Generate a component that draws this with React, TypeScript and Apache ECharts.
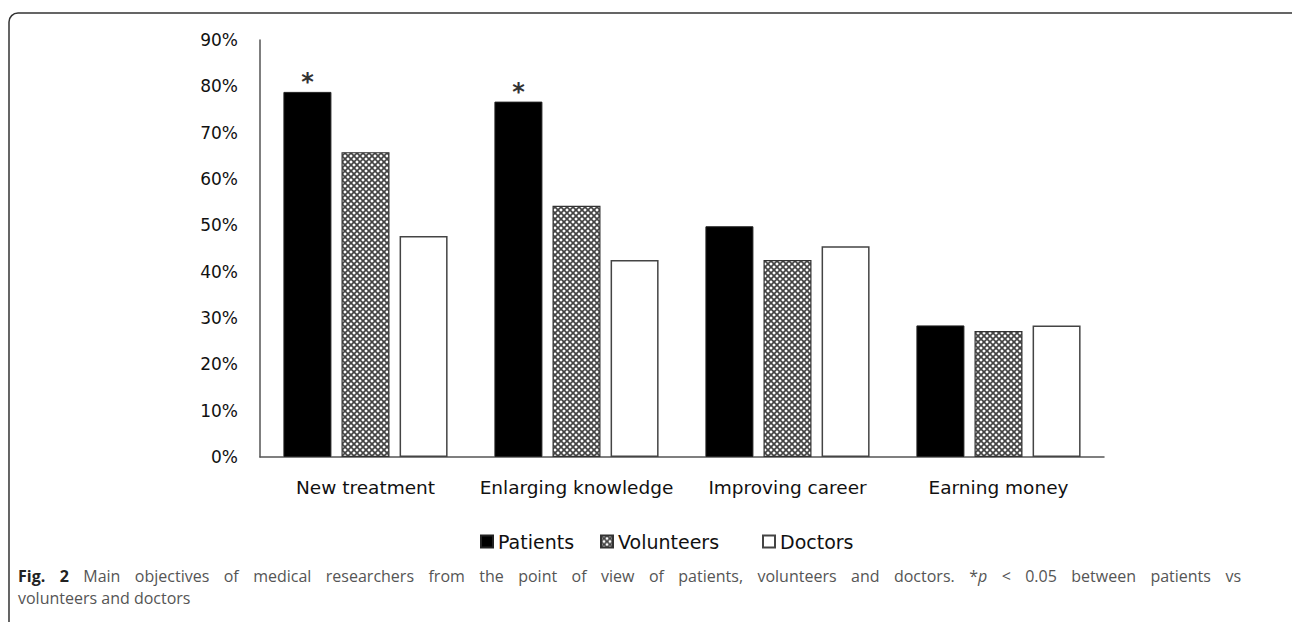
import React, { useEffect, useRef } from "react";
import * as echarts from "echarts";

const categories = ["New treatment", "Enlarging knowledge", "Improving career", "Earning money"];
const seriesNames = ["Patients", "Volunteers", "Doctors"];
const patients = [78.8, 76.7, 49.8, 28.4];
const volunteers = [65.8, 54.2, 42.5, 27.2];
const doctors = [47.7, 42.5, 45.5, 28.4];
const patientsSignificant = [true, true, false, false];
const yTicks = { min: 0, max: 90, interval: 10 };
// caption words: [text, style] ; style b = bold, n = normal, pi = "*p" with italic p
const captionWords: [string, string][] = [
  ["Fig.", "b"], ["2", "b"],
  ...("Main objectives of medical researchers from the point of view of patients, volunteers and doctors."
    .split(" ").map((w) => [w, "n"] as [string, string])),
  ["*p", "pi"],
  ...("< 0.05 between patients vs".split(" ").map((w) => [w, "n"] as [string, string])),
];
const captionLine2 = "volunteers and doctors";

function makeHatch(): string {
  const c = document.createElement("canvas");
  c.width = 6;
  c.height = 6;
  const ctx = c.getContext("2d");
  if (ctx) {
    ctx.fillStyle = "#ffffff";
    ctx.fillRect(0, 0, 6, 6);
    ctx.strokeStyle = "#444444";
    ctx.lineWidth = 1.7;
    ctx.beginPath();
    ctx.moveTo(-1, -1);
    ctx.lineTo(7, 7);
    ctx.moveTo(7, -1);
    ctx.lineTo(-1, 7);
    ctx.stroke();
  }
  return c.toDataURL();
}

export default function App() {
  const ref = useRef<HTMLDivElement>(null);
  useEffect(() => {
    document.body.style.margin = "0";
    if (!ref.current) return;
    const chart = echarts.init(ref.current, undefined, { renderer: "svg" });
    const hatch = makeHatch();
    const axisFont = "DejaVu Sans";
    const capFont = "Open Sans";
    const capSize = 16;

    // justified caption line
    const mc = document.createElement("canvas").getContext("2d")!;
    const measure = (t: string, weight: string, style: string) => {
      mc.font = `${style} ${weight} ${capSize}px "${capFont}"`;
      return mc.measureText(t).width;
    };
    const widths = captionWords.map(([w, s]) => {
      if (s === "b") return measure(w, "bold", "normal");
      if (s === "pi") return measure("*", "normal", "normal") + measure("p", "normal", "italic");
      return measure(w, "normal", "normal");
    });
    const lineLeft = 18;
    const lineRight = 1241;
    const total = widths.reduce((a, b) => a + b, 0);
    const gap = (lineRight - lineLeft - total) / (captionWords.length - 1);
    const rich = {
      b: { fontFamily: capFont, fontSize: capSize, fontWeight: "bold", fill: "#222" },
      n: { fontFamily: capFont, fontSize: capSize, fill: "#555" },
      i: { fontFamily: capFont, fontSize: capSize, fontStyle: "italic", fill: "#555" },
    };
    let xPos = lineLeft;
    const captionGraphics = captionWords.map(([w, s], k) => {
      const text = s === "pi" ? `{n|*}{i|p}` : `{${s}|${w}}`;
      const g = {
        type: "text",
        x: xPos,
        y: 576,
        silent: true,
        style: { text, rich, verticalAlign: "middle", align: "left" },
      };
      xPos += widths[k] + gap;
      return g;
    });

    const legendLefts = [475, 595, 757];
    const legends = seriesNames.map((name, k) => ({
      show: true,
      left: legendLefts[k],
      top: 527,
      itemWidth: 12,
      itemHeight: 12,
      itemGap: 0,
      icon: "rect",
      textStyle: { fontFamily: axisFont, fontSize: 19, color: "#111" },
      data: [name],
    }));

    const barBase = { type: "bar" as const, barWidth: 48, barGap: "21%" };
    chart.setOption({
      animation: false,
      backgroundColor: "#ffffff",
      grid: { left: 260, right: 188, top: 40, bottom: 165, containLabel: false },
      legend: legends,
      xAxis: {
        type: "category",
        data: categories,
        axisLine: { show: true, lineStyle: { color: "#555", width: 1.5 } },
        axisTick: { show: false },
        axisLabel: { fontFamily: axisFont, fontSize: 18.5, color: "#111", margin: 21, interval: 0 },
      },
      yAxis: {
        type: "value",
        min: yTicks.min,
        max: yTicks.max,
        interval: yTicks.interval,
        axisLine: { show: true, lineStyle: { color: "#555", width: 1.5 } },
        axisTick: { show: false },
        splitLine: { show: false },
        axisLabel: { fontFamily: axisFont, fontSize: 17, color: "#111", margin: 22, formatter: "{value}%" },
      },
      series: [
        {
          ...barBase,
          name: seriesNames[0],
          itemStyle: { color: "#000000", borderColor: "#222", borderWidth: 1 },
          data: patients.map((v, i) => ({
            value: v,
            label: patientsSignificant[i]
              ? { show: true, position: "top", formatter: "*", fontSize: 24, fontWeight: "bold", color: "#333", distance: -2, fontFamily: axisFont }
              : { show: false },
          })),
        },
        {
          ...barBase,
          name: seriesNames[1],
          itemStyle: { color: { image: hatch, repeat: "repeat" }, borderColor: "#333", borderWidth: 1.2 },
          data: volunteers,
        },
        {
          ...barBase,
          name: seriesNames[2],
          itemStyle: { color: "#ffffff", borderColor: "#444", borderWidth: 1.5 },
          data: doctors,
        },
      ],
      graphic: [
        {
          type: "rect",
          silent: true,
          z: -10,
          shape: { x: 9, y: 13, width: 1300, height: 700, r: 9 },
          style: { fill: "none", stroke: "#333", lineWidth: 1.5 },
        },
        ...captionGraphics,
        {
          type: "text",
          x: 18,
          y: 598,
          silent: true,
          style: { text: captionLine2, fontFamily: capFont, fontSize: capSize, fill: "#555", verticalAlign: "middle" },
        },
      ],
    });
    return () => chart.dispose();
  }, []);
  return <div ref={ref} style={{ width: 1292, height: 622 }} />;
}
